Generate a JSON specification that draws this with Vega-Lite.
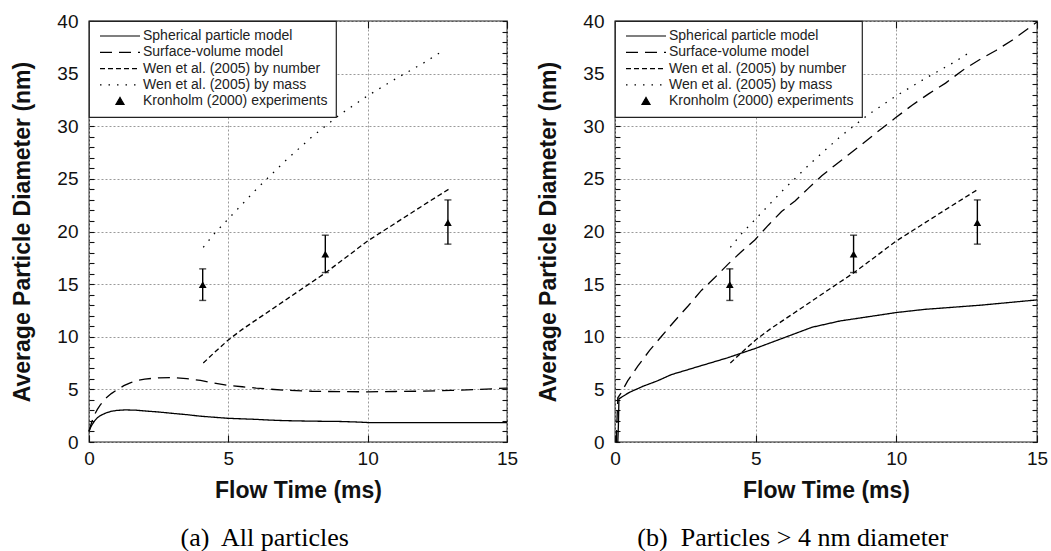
{
  "$schema": "https://vega.github.io/schema/vega-lite/v6.json",
  "background": "white",
  "padding": {"left": 11, "top": 11, "right": 5, "bottom": 2},
  "bounds": "flush",
  "spacing": 108,
  "config": {
    "font": "Liberation Sans",
    "view": {"stroke": "#222", "strokeWidth": 1.3},
    "axis": {
      "labelFont": "Liberation Sans", "labelFontSize": 19, "labelColor": "#111", "labelFlush": false,
      "titleFont": "Liberation Sans", "titleFontSize": 23, "titleFontWeight": "bold", "titleColor": "#111", "titleLimit": 1000,
      "tickColor": "#111", "tickWidth": 1.1, "domain": false,
      "gridColor": "#9a9a9a", "gridDash": [2, 2], "gridWidth": 1
    },
    "legend": {"strokeWidth": 1.2},
    "title": {"font": "Liberation Serif", "fontSize": 26, "fontWeight": "normal", "color": "#000"}
  },
  "datasets": {
    "linesA": [
      {"series": "Spherical particle model", "t": 0, "d": 1.0},
      {"series": "Spherical particle model", "t": 0.05, "d": 1.35},
      {"series": "Spherical particle model", "t": 0.1, "d": 1.6},
      {"series": "Spherical particle model", "t": 0.2, "d": 2.0},
      {"series": "Spherical particle model", "t": 0.3, "d": 2.3},
      {"series": "Spherical particle model", "t": 0.4, "d": 2.5},
      {"series": "Spherical particle model", "t": 0.6, "d": 2.75},
      {"series": "Spherical particle model", "t": 0.8, "d": 2.92},
      {"series": "Spherical particle model", "t": 1.0, "d": 3.0},
      {"series": "Spherical particle model", "t": 1.3, "d": 3.05},
      {"series": "Spherical particle model", "t": 1.7, "d": 3.02},
      {"series": "Spherical particle model", "t": 2.0, "d": 2.95},
      {"series": "Spherical particle model", "t": 2.5, "d": 2.85},
      {"series": "Spherical particle model", "t": 3.0, "d": 2.72},
      {"series": "Spherical particle model", "t": 3.5, "d": 2.6},
      {"series": "Spherical particle model", "t": 4.0, "d": 2.45},
      {"series": "Spherical particle model", "t": 4.5, "d": 2.35},
      {"series": "Spherical particle model", "t": 5.0, "d": 2.25},
      {"series": "Spherical particle model", "t": 5.5, "d": 2.2},
      {"series": "Spherical particle model", "t": 6.0, "d": 2.15},
      {"series": "Spherical particle model", "t": 6.5, "d": 2.08},
      {"series": "Spherical particle model", "t": 7.0, "d": 2.03},
      {"series": "Spherical particle model", "t": 8.0, "d": 1.98},
      {"series": "Spherical particle model", "t": 9.0, "d": 1.95},
      {"series": "Spherical particle model", "t": 9.6, "d": 1.9},
      {"series": "Spherical particle model", "t": 10.0, "d": 1.85},
      {"series": "Spherical particle model", "t": 12.0, "d": 1.85},
      {"series": "Spherical particle model", "t": 15.0, "d": 1.85},
      {"series": "Surface-volume model", "t": 0, "d": 1.0},
      {"series": "Surface-volume model", "t": 0.05, "d": 1.5},
      {"series": "Surface-volume model", "t": 0.1, "d": 1.9},
      {"series": "Surface-volume model", "t": 0.2, "d": 2.6},
      {"series": "Surface-volume model", "t": 0.3, "d": 3.1},
      {"series": "Surface-volume model", "t": 0.4, "d": 3.5},
      {"series": "Surface-volume model", "t": 0.6, "d": 4.15},
      {"series": "Surface-volume model", "t": 0.8, "d": 4.6},
      {"series": "Surface-volume model", "t": 1.0, "d": 4.95},
      {"series": "Surface-volume model", "t": 1.25, "d": 5.35},
      {"series": "Surface-volume model", "t": 1.5, "d": 5.65},
      {"series": "Surface-volume model", "t": 1.75, "d": 5.85},
      {"series": "Surface-volume model", "t": 2.0, "d": 5.98},
      {"series": "Surface-volume model", "t": 2.5, "d": 6.1},
      {"series": "Surface-volume model", "t": 3.0, "d": 6.12},
      {"series": "Surface-volume model", "t": 3.5, "d": 6.02},
      {"series": "Surface-volume model", "t": 4.0, "d": 5.85},
      {"series": "Surface-volume model", "t": 4.5, "d": 5.6},
      {"series": "Surface-volume model", "t": 5.0, "d": 5.38},
      {"series": "Surface-volume model", "t": 5.5, "d": 5.25},
      {"series": "Surface-volume model", "t": 6.0, "d": 5.12},
      {"series": "Surface-volume model", "t": 6.5, "d": 5.02},
      {"series": "Surface-volume model", "t": 7.0, "d": 4.93},
      {"series": "Surface-volume model", "t": 8.0, "d": 4.82},
      {"series": "Surface-volume model", "t": 9.0, "d": 4.78},
      {"series": "Surface-volume model", "t": 10.0, "d": 4.77},
      {"series": "Surface-volume model", "t": 11.0, "d": 4.8},
      {"series": "Surface-volume model", "t": 12.0, "d": 4.83},
      {"series": "Surface-volume model", "t": 13.0, "d": 4.9},
      {"series": "Surface-volume model", "t": 14.0, "d": 5.0},
      {"series": "Surface-volume model", "t": 15.0, "d": 5.12},
      {"series": "Wen et al. (2005) by number", "t": 4.1, "d": 7.5},
      {"series": "Wen et al. (2005) by number", "t": 4.5, "d": 8.5},
      {"series": "Wen et al. (2005) by number", "t": 5.0, "d": 9.7},
      {"series": "Wen et al. (2005) by number", "t": 5.5, "d": 10.7},
      {"series": "Wen et al. (2005) by number", "t": 6.0, "d": 11.6},
      {"series": "Wen et al. (2005) by number", "t": 7.0, "d": 13.4},
      {"series": "Wen et al. (2005) by number", "t": 8.0, "d": 15.2},
      {"series": "Wen et al. (2005) by number", "t": 8.5, "d": 16.1},
      {"series": "Wen et al. (2005) by number", "t": 9.0, "d": 17.1},
      {"series": "Wen et al. (2005) by number", "t": 10.0, "d": 19.1},
      {"series": "Wen et al. (2005) by number", "t": 11.0, "d": 20.8},
      {"series": "Wen et al. (2005) by number", "t": 12.0, "d": 22.5},
      {"series": "Wen et al. (2005) by number", "t": 12.9, "d": 24.0},
      {"series": "Wen et al. (2005) by mass", "t": 4.1, "d": 18.5},
      {"series": "Wen et al. (2005) by mass", "t": 4.5, "d": 19.8},
      {"series": "Wen et al. (2005) by mass", "t": 5.0, "d": 21.2},
      {"series": "Wen et al. (2005) by mass", "t": 6.0, "d": 24.0},
      {"series": "Wen et al. (2005) by mass", "t": 7.0, "d": 26.6},
      {"series": "Wen et al. (2005) by mass", "t": 8.0, "d": 29.0},
      {"series": "Wen et al. (2005) by mass", "t": 9.0, "d": 31.1},
      {"series": "Wen et al. (2005) by mass", "t": 10.0, "d": 32.9},
      {"series": "Wen et al. (2005) by mass", "t": 11.0, "d": 34.5},
      {"series": "Wen et al. (2005) by mass", "t": 12.0, "d": 36.0},
      {"series": "Wen et al. (2005) by mass", "t": 12.6, "d": 37.0}
    ],
    "linesB": [
      {"series": "Spherical particle model", "t": 0.1, "d": 0},
      {"series": "Spherical particle model", "t": 0.12, "d": 1.5},
      {"series": "Spherical particle model", "t": 0.14, "d": 4.1},
      {"series": "Spherical particle model", "t": 0.5, "d": 4.7},
      {"series": "Spherical particle model", "t": 1.0, "d": 5.3},
      {"series": "Spherical particle model", "t": 1.5, "d": 5.8},
      {"series": "Spherical particle model", "t": 2.0, "d": 6.4},
      {"series": "Spherical particle model", "t": 3.0, "d": 7.2},
      {"series": "Spherical particle model", "t": 4.0, "d": 8.0},
      {"series": "Spherical particle model", "t": 5.0, "d": 8.9},
      {"series": "Spherical particle model", "t": 6.0, "d": 9.9},
      {"series": "Spherical particle model", "t": 7.0, "d": 10.9},
      {"series": "Spherical particle model", "t": 8.0, "d": 11.5},
      {"series": "Spherical particle model", "t": 9.0, "d": 11.9},
      {"series": "Spherical particle model", "t": 10.0, "d": 12.3},
      {"series": "Spherical particle model", "t": 11.0, "d": 12.6},
      {"series": "Spherical particle model", "t": 12.0, "d": 12.8},
      {"series": "Spherical particle model", "t": 13.0, "d": 13.0},
      {"series": "Spherical particle model", "t": 14.0, "d": 13.25},
      {"series": "Spherical particle model", "t": 15.0, "d": 13.5},
      {"series": "Surface-volume model", "t": 0.05, "d": 0},
      {"series": "Surface-volume model", "t": 0.07, "d": 2.0},
      {"series": "Surface-volume model", "t": 0.1, "d": 4.2},
      {"series": "Surface-volume model", "t": 0.2, "d": 4.6},
      {"series": "Surface-volume model", "t": 0.45, "d": 5.8},
      {"series": "Surface-volume model", "t": 0.81, "d": 7.2},
      {"series": "Surface-volume model", "t": 1.23, "d": 8.7},
      {"series": "Surface-volume model", "t": 1.64, "d": 10.0},
      {"series": "Surface-volume model", "t": 2.12, "d": 11.5},
      {"series": "Surface-volume model", "t": 2.59, "d": 12.9},
      {"series": "Surface-volume model", "t": 3.07, "d": 14.4},
      {"series": "Surface-volume model", "t": 3.54, "d": 15.6},
      {"series": "Surface-volume model", "t": 4.02, "d": 16.9},
      {"series": "Surface-volume model", "t": 4.5, "d": 18.1},
      {"series": "Surface-volume model", "t": 4.97, "d": 19.2},
      {"series": "Surface-volume model", "t": 5.45, "d": 20.6},
      {"series": "Surface-volume model", "t": 5.92, "d": 21.9},
      {"series": "Surface-volume model", "t": 6.4, "d": 22.9},
      {"series": "Surface-volume model", "t": 6.87, "d": 24.1},
      {"series": "Surface-volume model", "t": 7.35, "d": 25.3},
      {"series": "Surface-volume model", "t": 7.82, "d": 26.3},
      {"series": "Surface-volume model", "t": 8.3, "d": 27.3},
      {"series": "Surface-volume model", "t": 8.78, "d": 28.3},
      {"series": "Surface-volume model", "t": 9.25, "d": 29.3},
      {"series": "Surface-volume model", "t": 9.97, "d": 30.8},
      {"series": "Surface-volume model", "t": 10.56, "d": 32.0},
      {"series": "Surface-volume model", "t": 11.16, "d": 33.1},
      {"series": "Surface-volume model", "t": 11.75, "d": 34.1},
      {"series": "Surface-volume model", "t": 12.35, "d": 35.3},
      {"series": "Surface-volume model", "t": 12.94, "d": 36.3},
      {"series": "Surface-volume model", "t": 13.54, "d": 37.2},
      {"series": "Surface-volume model", "t": 14.13, "d": 38.2},
      {"series": "Surface-volume model", "t": 15.0, "d": 39.9},
      {"series": "Wen et al. (2005) by number", "t": 4.1, "d": 7.5},
      {"series": "Wen et al. (2005) by number", "t": 4.5, "d": 8.5},
      {"series": "Wen et al. (2005) by number", "t": 5.0, "d": 9.7},
      {"series": "Wen et al. (2005) by number", "t": 5.5, "d": 10.7},
      {"series": "Wen et al. (2005) by number", "t": 6.0, "d": 11.6},
      {"series": "Wen et al. (2005) by number", "t": 7.0, "d": 13.4},
      {"series": "Wen et al. (2005) by number", "t": 8.0, "d": 15.2},
      {"series": "Wen et al. (2005) by number", "t": 8.5, "d": 16.1},
      {"series": "Wen et al. (2005) by number", "t": 9.0, "d": 17.1},
      {"series": "Wen et al. (2005) by number", "t": 10.0, "d": 19.1},
      {"series": "Wen et al. (2005) by number", "t": 11.0, "d": 20.8},
      {"series": "Wen et al. (2005) by number", "t": 12.0, "d": 22.5},
      {"series": "Wen et al. (2005) by number", "t": 12.9, "d": 24.0},
      {"series": "Wen et al. (2005) by mass", "t": 4.1, "d": 18.5},
      {"series": "Wen et al. (2005) by mass", "t": 4.5, "d": 19.8},
      {"series": "Wen et al. (2005) by mass", "t": 5.0, "d": 21.2},
      {"series": "Wen et al. (2005) by mass", "t": 6.0, "d": 24.0},
      {"series": "Wen et al. (2005) by mass", "t": 7.0, "d": 26.6},
      {"series": "Wen et al. (2005) by mass", "t": 8.0, "d": 29.0},
      {"series": "Wen et al. (2005) by mass", "t": 9.0, "d": 31.1},
      {"series": "Wen et al. (2005) by mass", "t": 10.0, "d": 32.9},
      {"series": "Wen et al. (2005) by mass", "t": 11.0, "d": 34.5},
      {"series": "Wen et al. (2005) by mass", "t": 12.0, "d": 36.0},
      {"series": "Wen et al. (2005) by mass", "t": 12.6, "d": 37.0}
    ],
    "experiments": [
      {"series": "Kronholm (2000) experiments", "t": 4.08, "d": 14.95, "lo": 13.45, "hi": 16.45},
      {"series": "Kronholm (2000) experiments", "t": 8.48, "d": 17.85, "lo": 16.1, "hi": 19.65},
      {"series": "Kronholm (2000) experiments", "t": 12.88, "d": 20.85, "lo": 18.8, "hi": 23.0}
    ]
  },
  "resolve": {"scale": {"strokeDash": "independent"}, "legend": {"strokeDash": "independent"}},
  "hconcat": [
    {
      "width": 418,
      "height": 421,
      "title": {"text": "(a)\u00a0 All particles", "orient": "bottom", "anchor": "middle", "frame": "bounds", "offset": 23},
      "resolve": {"axis": {"x": "independent", "y": "independent"}},
      "layer": [
        {
          "data": {"name": "linesA"},
          "mark": {"type": "line", "color": "black", "strokeWidth": 1.3},
          "encoding": {
            "x": {"field": "t", "type": "quantitative", "scale": {"domain": [0, 15]},
              "axis": {"orient": "bottom", "values": [0, 5, 10, 15], "title": "Flow Time (ms)", "grid": true, "tickSize": -7, "labelPadding": 14, "titlePadding": 11}},
            "y": {"field": "d", "type": "quantitative", "scale": {"domain": [0, 40]},
              "axis": {"orient": "left", "values": [0,1,2,3,4,5,6,7,8,9,10,11,12,13,14,15,16,17,18,19,20,21,22,23,24,25,26,27,28,29,30,31,32,33,34,35,36,37,38,39,40],
                "title": "Average Particle Diameter (nm)", "grid": true,
                "gridOpacity": {"condition": {"test": "datum.value % 5 === 0", "value": 1}, "value": 0},
                "labelExpr": "datum.value % 5 === 0 ? datum.label : ''", "labelOverlap": false,
                "tickSize": -5, "labelPadding": 16, "titlePadding": 22}},
            "strokeDash": {"field": "series", "type": "nominal",
              "scale": {"domain": ["Spherical particle model", "Surface-volume model", "Wen et al. (2005) by number", "Wen et al. (2005) by mass", "Kronholm (2000) experiments"],
                "range": [[1, 0], [12, 7], [5, 3], [1.5, 7], [1, 0]]},
              "legend": {"title": null, "orient": "top-left", "offset": 0, "padding": 8, "fillColor": "white", "strokeColor": "#222",
                "labelFont": "Liberation Sans", "labelFontSize": 14, "labelColor": "#222", "labelLimit": 400,
                "symbolType": {"expr": "datum.value === 'Kronholm (2000) experiments' ? 'M0,-0.75L0.8,0.65L-0.8,0.65Z' : 'M-4,0H4'"},
                "symbolSize": 100, "symbolStrokeWidth": 1.2, "symbolStrokeColor": "black", "symbolFillColor": "black",
                "symbolOffset": 16, "labelOffset": 16, "rowPadding": 2.3}}
          }
        },
        {
          "data": {"name": "experiments"},
          "mark": {"type": "errorbar", "orient": "vertical", "ticks": {"size": 7, "thickness": 1.4, "color": "black"}, "rule": {"strokeWidth": 1.4, "color": "black"}},
          "encoding": {
            "x": {"field": "t", "type": "quantitative", "scale": {"domain": [0, 15]}, "axis": null},
            "y": {"field": "lo", "type": "quantitative", "scale": {"domain": [0, 40]}, "axis": null},
            "y2": {"field": "hi"}
          }
        },
        {
          "data": {"name": "experiments"},
          "mark": {"type": "point", "shape": "triangle-up", "filled": true, "size": 60, "color": "black", "opacity": 1},
          "encoding": {
            "x": {"field": "t", "type": "quantitative", "scale": {"domain": [0, 15]},
              "axis": {"orient": "top", "values": [0, 5, 10, 15], "labels": false, "title": null, "grid": false, "tickSize": -7}},
            "y": {"field": "d", "type": "quantitative", "scale": {"domain": [0, 40]},
              "axis": {"orient": "right", "values": [0,1,2,3,4,5,6,7,8,9,10,11,12,13,14,15,16,17,18,19,20,21,22,23,24,25,26,27,28,29,30,31,32,33,34,35,36,37,38,39,40],
                "labels": false, "title": null, "grid": false, "tickSize": -5}}
          }
        }
      ]
    },
    {
      "width": 422,
      "height": 421,
      "title": {"text": "(b)\u00a0 Particles > 4 nm diameter", "orient": "bottom", "anchor": "middle", "frame": "bounds", "offset": 23},
      "resolve": {"axis": {"x": "independent", "y": "independent"}},
      "layer": [
        {
          "data": {"name": "linesB"},
          "mark": {"type": "line", "color": "black", "strokeWidth": 1.3},
          "encoding": {
            "x": {"field": "t", "type": "quantitative", "scale": {"domain": [0, 15]},
              "axis": {"orient": "bottom", "values": [0, 5, 10, 15], "title": "Flow Time (ms)", "grid": true, "tickSize": -7, "labelPadding": 14, "titlePadding": 11}},
            "y": {"field": "d", "type": "quantitative", "scale": {"domain": [0, 40]},
              "axis": {"orient": "left", "values": [0,1,2,3,4,5,6,7,8,9,10,11,12,13,14,15,16,17,18,19,20,21,22,23,24,25,26,27,28,29,30,31,32,33,34,35,36,37,38,39,40],
                "title": "Average Particle Diameter (nm)", "grid": true,
                "gridOpacity": {"condition": {"test": "datum.value % 5 === 0", "value": 1}, "value": 0},
                "labelExpr": "datum.value % 5 === 0 ? datum.label : ''", "labelOverlap": false,
                "tickSize": -5, "labelPadding": 16, "titlePadding": 22}},
            "strokeDash": {"field": "series", "type": "nominal",
              "scale": {"domain": ["Spherical particle model", "Surface-volume model", "Wen et al. (2005) by number", "Wen et al. (2005) by mass", "Kronholm (2000) experiments"],
                "range": [[1, 0], [12, 7], [5, 3], [1.5, 7], [1, 0]]},
              "legend": {"title": null, "orient": "top-left", "offset": 0, "padding": 8, "fillColor": "white", "strokeColor": "#222",
                "labelFont": "Liberation Sans", "labelFontSize": 14, "labelColor": "#222", "labelLimit": 400,
                "symbolType": {"expr": "datum.value === 'Kronholm (2000) experiments' ? 'M0,-0.75L0.8,0.65L-0.8,0.65Z' : 'M-4,0H4'"},
                "symbolSize": 100, "symbolStrokeWidth": 1.2, "symbolStrokeColor": "black", "symbolFillColor": "black",
                "symbolOffset": 16, "labelOffset": 16, "rowPadding": 2.3}}
          }
        },
        {
          "data": {"name": "experiments"},
          "mark": {"type": "errorbar", "orient": "vertical", "ticks": {"size": 7, "thickness": 1.4, "color": "black"}, "rule": {"strokeWidth": 1.4, "color": "black"}},
          "encoding": {
            "x": {"field": "t", "type": "quantitative", "scale": {"domain": [0, 15]}, "axis": null},
            "y": {"field": "lo", "type": "quantitative", "scale": {"domain": [0, 40]}, "axis": null},
            "y2": {"field": "hi"}
          }
        },
        {
          "data": {"name": "experiments"},
          "mark": {"type": "point", "shape": "triangle-up", "filled": true, "size": 60, "color": "black", "opacity": 1},
          "encoding": {
            "x": {"field": "t", "type": "quantitative", "scale": {"domain": [0, 15]},
              "axis": {"orient": "top", "values": [0, 5, 10, 15], "labels": false, "title": null, "grid": false, "tickSize": -7}},
            "y": {"field": "d", "type": "quantitative", "scale": {"domain": [0, 40]},
              "axis": {"orient": "right", "values": [0,1,2,3,4,5,6,7,8,9,10,11,12,13,14,15,16,17,18,19,20,21,22,23,24,25,26,27,28,29,30,31,32,33,34,35,36,37,38,39,40],
                "labels": false, "title": null, "grid": false, "tickSize": -5}}
          }
        }
      ]
    }
  ]
}
